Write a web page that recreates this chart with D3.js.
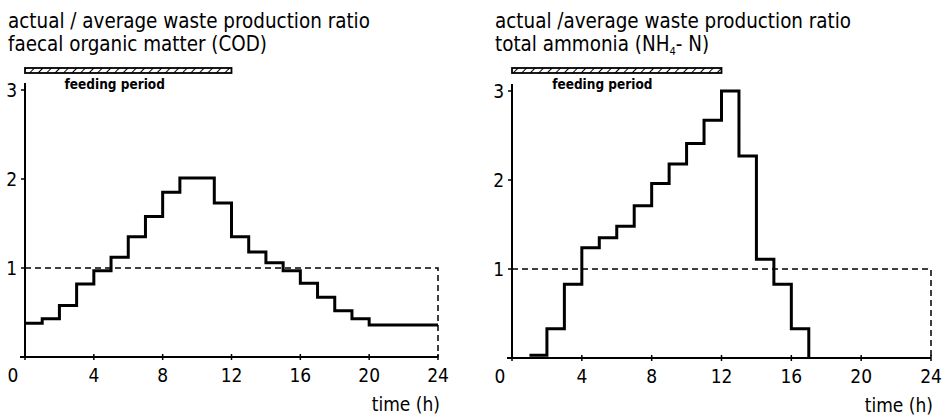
<!DOCTYPE html>
<html><head><meta charset="utf-8">
<script src="https://cdn.jsdelivr.net/npm/d3@7"></script>
<style>
body{margin:0;background:#fff;}
svg{display:block;}
text{font-family:"Liberation Sans Narrow","DejaVu Sans Condensed","Liberation Sans",sans-serif;fill:#000;}
</style></head><body>
<svg id="chart" width="945" height="416"></svg>
<script>
// ---- data ----
const hours = [0,1,2,3,4,5,6,7,8,9,10,11,12,13,14,15,16,17,18,19,20,21,22,23,24];
const codValues = [0.38,0.43,0.58,0.82,0.97,1.12,1.35,1.58,1.85,2.01,2.01,1.73,1.35,1.18,1.06,0.97,0.83,0.67,0.52,0.43,0.36,0.36,0.36,0.36,0.36];
const nh4Hours = [1,2,3,4,5,6,7,8,9,10,11,12,13,14,15,16,17];
const nh4Values = [0.03,0.33,0.83,1.24,1.35,1.48,1.71,1.96,2.18,2.41,2.67,3.0,2.27,1.11,0.83,0.33,0];
const xTicks = [0,4,8,12,16,20,24];
const yTicks = [1,2,3];
const averageLevel = 1;
const feedingPeriod = [0,12];
const titlesLeft = ["actual / average waste production ratio","faecal organic matter (COD)"];
const titlesRight = ["actual /average waste production ratio","total ammonia (NH"];

const svg = d3.select("#chart");
const defs = svg.append("defs");
const pat = defs.append("pattern").attr("id","hatch").attr("patternUnits","userSpaceOnUse")
  .attr("width",6).attr("height",6).attr("patternTransform","rotate(45)");
pat.append("line").attr("x1",0).attr("y1",0).attr("x2",0).attr("y2",6).attr("stroke","#000").attr("stroke-width",2);

function panel(opts){
  const x = d3.scaleLinear().domain([0,24]).range(opts.xr);
  const y = d3.scaleLinear().domain([0,3]).range(opts.yr);
  const g = svg.append("g");

  // titles
  g.append("text").attr("x",opts.tx).attr("y",28).style("font-size","20.4px").text(opts.titles[0]);
  const t2 = g.append("text").attr("x",opts.tx).attr("y",51).style("font-size","20.4px");
  t2.append("tspan").text(opts.titles[1]);
  if(opts.sub){
    t2.append("tspan").attr("dy",4).style("font-size","11px").text("4");
    t2.append("tspan").attr("dy",-4).text("- N)");
  }

  // feeding bar
  g.append("rect").attr("x",x(feedingPeriod[0])).attr("y",68)
    .attr("width",x(feedingPeriod[1])-x(feedingPeriod[0])).attr("height",5)
    .attr("fill","url(#hatch)").attr("stroke","#000").attr("stroke-width",1.8);
  g.append("text").attr("x",x(2.3)).attr("y",89).style("font-size","13.5px").style("font-weight","bold").text("feeding period");

  // dashed average box
  g.append("path").attr("d",`M${x(0)},${y(averageLevel)}H${x(24)}V${y(0)}`)
    .attr("fill","none").attr("stroke","#000").attr("stroke-width",1.5).attr("stroke-dasharray","6,4");

  // axes
  g.append("line").attr("x1",x(0)).attr("x2",x(0)).attr("y1",y(0)).attr("y2",y(3.08))
    .attr("stroke","#000").attr("stroke-width",2);
  g.append("line").attr("x1",x(0)-5).attr("x2",x(24)).attr("y1",y(0)).attr("y2",y(0))
    .attr("stroke","#000").attr("stroke-width",2);
  xTicks.forEach(v=>{
    g.append("line").attr("x1",x(v)).attr("x2",x(v)).attr("y1",y(0)-3).attr("y2",y(0)+3).attr("stroke","#000").attr("stroke-width",1.5);
    g.append("text").attr("x",v===0?x(v)-12:x(v)).attr("y",y(0)+25).attr("text-anchor","middle").style("font-size","19px").text(v);
  });
  yTicks.forEach(v=>{
    g.append("line").attr("x1",x(0)-4).attr("x2",x(0)).attr("y1",y(v)).attr("y2",y(v)).attr("stroke","#000").attr("stroke-width",1.5);
    g.append("text").attr("x",x(0)-8).attr("y",y(v)+7).attr("text-anchor","end").style("font-size","19px").text(v);
  });
  g.append("text").attr("x",x(24)+2).attr("y",y(0)+54).attr("text-anchor","end").style("font-size","19px").text("time (h)");

  // step line
  const line = d3.line().x(d=>x(d[0])).y(d=>y(d[1])).curve(d3.curveStepAfter);
  g.append("path").datum(opts.data).attr("d",line).attr("fill","none")
    .attr("stroke","#000").attr("stroke-width",3).attr("stroke-linejoin","miter");
}

panel({xr:[25,438], yr:[357,90], tx:8, titles:titlesLeft, data:hours.map((h,i)=>[h,codValues[i]])});
panel({xr:[512,931], yr:[358,91], tx:495, titles:titlesRight, sub:true, data:nh4Hours.map((h,i)=>[h,nh4Values[i]])});
</script>
</body></html>
